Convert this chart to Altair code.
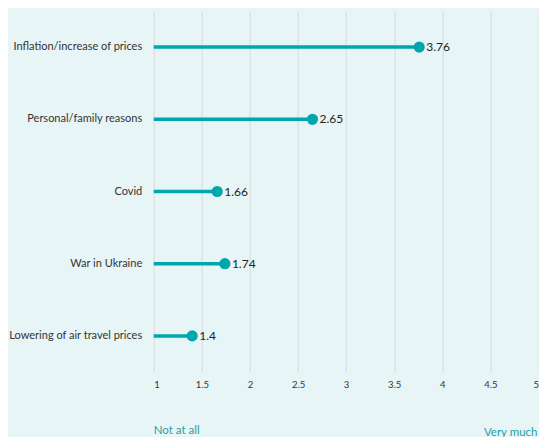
import altair as alt
import pandas as pd

categories = ["Inflation/increase of prices", "Personal/family reasons", "Covid",
              "War in Ukraine", "Lowering of air travel prices"]
values = [3.76, 2.65, 1.66, 1.74, 1.4]
x_ticks = [1, 1.5, 2, 2.5, 3, 3.5, 4, 4.5, 5]

df = pd.DataFrame({"cat": categories, "val": values, "start": [1] * len(values)})
df["label"] = [str(v) for v in values]

TEAL = "#00a6ad"
FONT = "Lato"

xscale = alt.Scale(domain=[1, 5], nice=False, zero=False)
xaxis = alt.Axis(values=x_ticks, grid=True, gridColor="#d9d9d9", gridWidth=1,
                 ticks=False, domain=False, labelPadding=7, labelFontSize=9.5,
                 labelColor="#333333", labelFont=FONT, title=None,
                 labelExpr="datum.value")
yenc = alt.Y("cat:N", sort=categories, title=None,
             scale=alt.Scale(paddingInner=0, paddingOuter=0),
             axis=alt.Axis(ticks=False, domain=False, labelPadding=12, labelFontSize=11,
                           labelColor="#333333", labelFont=FONT, grid=False))

base = alt.Chart(df)
lines = base.mark_rule(color=TEAL, strokeWidth=3.5).encode(
    x=alt.X("start:Q", scale=xscale, axis=xaxis), x2="val:Q", y=yenc)
dots = base.mark_circle(color=TEAL, size=125, opacity=1).encode(
    x=alt.X("val:Q", scale=xscale), y=alt.Y("cat:N", sort=categories))
labels = base.mark_text(align="left", dx=7, fontSize=12, font=FONT, color="#222222").encode(
    x=alt.X("val:Q", scale=xscale), y=alt.Y("cat:N", sort=categories), text="label:N")

ann = pd.DataFrame({"x": [1, 5], "t": ["Not at all", "Very much"]})
left_ann = alt.Chart(ann.iloc[[0]]).mark_text(align="left", baseline="middle", fontSize=11.5,
                                              font=FONT, color="#2a9fa6").encode(
    x=alt.X("x:Q", scale=xscale), y=alt.value(420), text="t:N")
right_ann = alt.Chart(ann.iloc[[1]]).mark_text(align="right", baseline="middle", fontSize=11.5,
                                               font=FONT, color="#2a9fa6", dx=-1).encode(
    x=alt.X("x:Q", scale=xscale), y=alt.value(422), text="t:N")

chart = alt.layer(lines, dots, labels, left_ann, right_ann).properties(
    width=384.8, height=361,
    autosize=alt.AutoSizeParams(type="none"),
    padding={"left": 145.7, "top": 3, "right": 0.5, "bottom": 65},
    background="#e8f5f6",
).configure_view(stroke=None)

chart.save("out.html", embed_options={"renderer": "svg", "actions": False})
